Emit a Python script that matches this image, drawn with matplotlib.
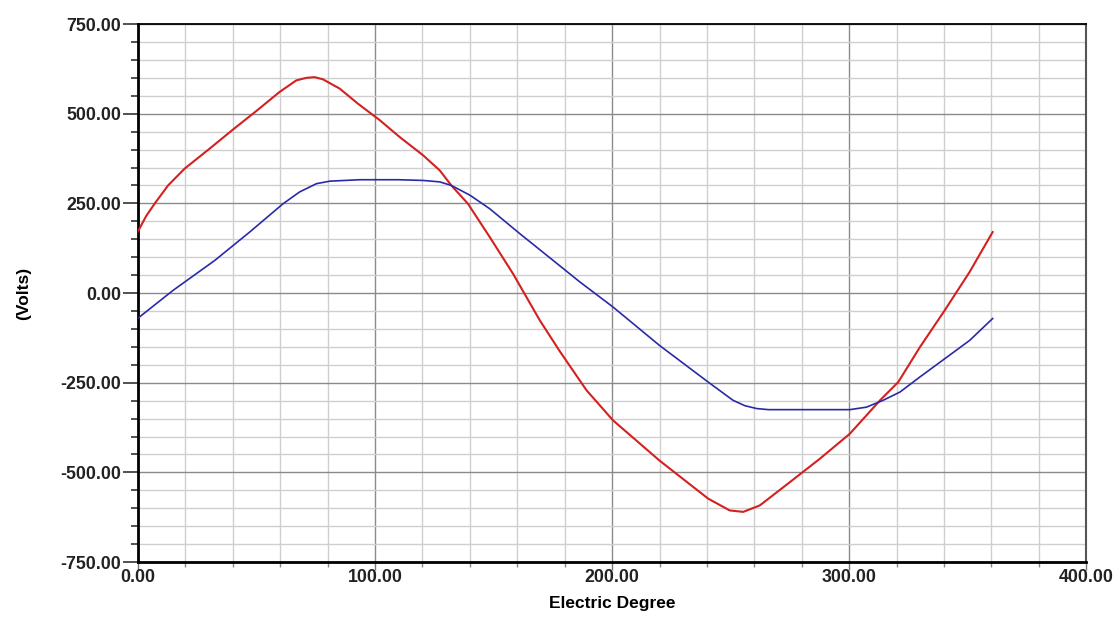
import matplotlib
matplotlib.use("Agg")
import matplotlib.pyplot as plt
from matplotlib.ticker import MultipleLocator, FormatStrFormatter

plt.rcParams['font.family'] = ['Liberation Sans', 'DejaVu Sans']

# red trace (line voltage)
red_deg = [0, 3.5, 7, 12.7, 19.7, 30.3, 40.1, 50, 59.8, 66.8, 71, 74.5, 78, 85.1,
           92.8, 102, 110.4, 120.3, 127.3, 132.2, 139.2, 148.4, 158.2, 169.5,
           178, 189.2, 200.4, 220, 240.5, 249.6, 255.3, 262.3, 275, 287.6,
           300.3, 313, 320.7, 329.8, 340.3, 350.8, 360.5]
red_volts = [172, 215, 249, 300, 347, 403, 456, 508, 561, 593, 600, 602, 596, 570,
             528, 482, 435, 384, 342, 300, 249, 156, 54, -76,
             -163, -271, -355, -467, -573, -606, -610, -592, -527, -462,
             -392, -299, -248, -151, -48, 59, 170]

# blue trace (phase voltage)
blue_deg = [0, 14.8, 32.4, 47.1, 61.2, 68.2, 75.3, 80.9, 93.5, 110, 120.3, 127.3,
            132.2, 140, 148.4, 161, 172.3, 186.4, 200.4, 220, 240.5, 251, 256,
            261, 266, 287.6, 300.3, 307.3, 314.3, 321.4, 329.8, 340.3, 350.8, 360.5]
blue_volts = [-70, 7.5, 91, 170, 249, 282, 305, 312, 316, 316, 314, 310,
              300, 273, 235, 166, 106, 31, -39, -146, -248, -299, -314,
              -322, -325, -325, -325, -318, -299, -276, -234, -183, -132, -71]

fig = plt.figure(figsize=(11.17, 6.17), dpi=100)
ax = fig.add_axes([0.1235, 0.089, 0.849, 0.872])

ax.plot(red_deg, red_volts, color='#d42020', lw=1.5, zorder=3)
ax.plot(blue_deg, blue_volts, color='#2a2aa8', lw=1.2, zorder=3)

ax.set_xlim(0, 400)
ax.set_ylim(-750, 750)
ax.xaxis.set_major_locator(MultipleLocator(100))
ax.xaxis.set_minor_locator(MultipleLocator(20))
ax.yaxis.set_major_locator(MultipleLocator(250))
ax.yaxis.set_minor_locator(MultipleLocator(50))
ax.xaxis.set_major_formatter(FormatStrFormatter('%.2f'))
ax.yaxis.set_major_formatter(FormatStrFormatter('%.2f'))

ax.grid(which='minor', color='#cfcfcf', lw=1.0)
ax.grid(which='major', color='#8a8a8a', lw=1.0)
ax.set_axisbelow(True)

for side in ['left', 'bottom', 'top']:
    ax.spines[side].set_color('black')
ax.spines['left'].set_linewidth(2)
ax.spines['bottom'].set_linewidth(2)
ax.spines['top'].set_linewidth(1.3)
ax.spines['right'].set_color('#555555')
ax.spines['right'].set_linewidth(1.5)

ax.tick_params(axis='y', which='major', direction='out', length=10.5, width=1.2,
               color='#333333', pad=1.5)
ax.tick_params(axis='y', which='minor', direction='out', length=5, width=1.2,
               color='#333333')
ax.tick_params(axis='x', which='major', direction='out', length=6, width=1,
               color='#777777', pad=-1)
ax.tick_params(axis='x', which='minor', direction='out', length=3.5, width=1,
               color='#888888')
for lbl in ax.get_xticklabels() + ax.get_yticklabels():
    lbl.set_fontweight('bold')
    lbl.set_fontsize(12.8)
    lbl.set_color('#222222')

ax.set_xlabel('Electric Degree', fontsize=12.5, fontweight='bold', va='center')
ax.xaxis.set_label_coords(0.5, -0.077)
ax.set_ylabel('(Volts)', fontsize=12.5, fontweight='bold', va='center')
ax.yaxis.set_label_coords(-0.121, 0.5)

fig.savefig('out.png', dpi=100)
